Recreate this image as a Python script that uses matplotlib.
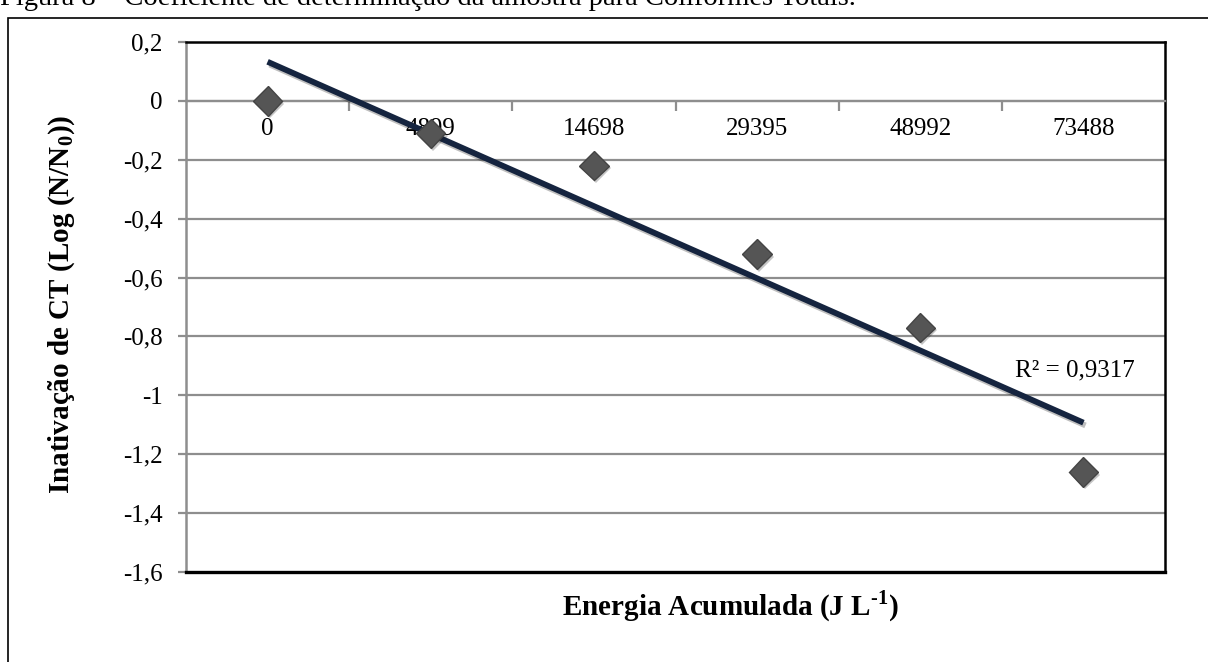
"""Inativacao de coliformes totais vs energia acumulada, com linha de tendencia."""

import matplotlib
matplotlib.use("Agg")
import matplotlib.pyplot as plt
import matplotlib.patheffects as pe
from matplotlib.patches import Rectangle
import numpy as np

# ------------------------------------------------------------------
# Data
# ------------------------------------------------------------------
energy_labels = ["0", "4899", "14698", "29395", "48992", "73488"]
log_inactivation = [0.0, -0.11, -0.22, -0.52, -0.77, -1.26]
r2_value = 0.9317

y_ticks = [0.2, 0.0, -0.2, -0.4, -0.6, -0.8, -1.0, -1.2, -1.4, -1.6]
y_tick_labels = ["0,2", "0", "-0,2", "-0,4", "-0,6", "-0,8", "-1", "-1,2", "-1,4", "-1,6"]

caption = "Figura 8 – Coeficiente de determinação da amostra para Coliformes Totais."
x_title = "Energia Acumulada (J L$^{\\mathbf{\u2010}\\mathbf{1}}$)"
y_title = "Inativação de CT (Log (N/N$_{\\mathbf{0}}$))"

plt.rcParams["font.family"] = ["Liberation Serif", "DejaVu Serif"]
plt.rcParams["mathtext.fontset"] = "custom"
plt.rcParams["mathtext.rm"] = "Liberation Serif"
plt.rcParams["mathtext.bf"] = "Liberation Serif:bold"

W, H = 1208, 662
fig = plt.figure(figsize=(W / 100, H / 100), dpi=100)
fig.patch.set_facecolor("white")

# outer frame (runs off right and bottom edges) and the caption cut at the top
fig.add_artist(Rectangle((8 / W, -0.1), 1.2, 1 - 18 / H + 0.1, transform=fig.transFigure,
                         fill=False, edgecolor="black", linewidth=1.2))
fig.text(0.0, 1 - 5 / H, caption, fontsize=20.5, ha="left", va="baseline")

ax = fig.add_axes([186 / W, (H - 572) / H, 979 / W, 530 / H])

pos = np.arange(1, len(energy_labels) + 1)
y = np.asarray(log_inactivation)

ax.set_xlim(0.5, len(pos) + 0.5)
ax.set_ylim(-1.6, 0.2)

# gridlines
grid_color = "#8e8e8e"
for t in y_ticks[1:-1]:
    ax.axhline(t, color=grid_color, linewidth=1.6, zorder=1)

# spines
for side in ("top", "right"):
    ax.spines[side].set_color("black")
    ax.spines[side].set_linewidth(1.8)
ax.spines["left"].set_color(grid_color)
ax.spines["left"].set_linewidth(1.8)
ax.spines["bottom"].set_position(("data", 0))
ax.spines["bottom"].set_color(grid_color)
ax.spines["bottom"].set_linewidth(1.6)
ax.axhline(-1.6, color="black", linewidth=2.4, zorder=3, clip_on=False)

# y axis
ax.set_yticks(y_ticks)
ax.set_yticklabels(y_tick_labels, fontsize=18)
ax.tick_params(axis="y", length=6, width=1.6, color=grid_color, pad=11)

# category axis crossing at zero
ax.set_xticks(pos)
ax.set_xticklabels(energy_labels, fontsize=18)
ax.set_xticks(pos[:-1] + 0.5, minor=True)
ax.tick_params(axis="x", which="major", length=0, pad=12)
ax.tick_params(axis="x", which="minor", length=7, width=1.6, color=grid_color, direction="out")

# trend line
slope, intercept = np.polyfit(pos, y, 1)
fit = slope * pos + intercept
ax.plot(pos, fit, color="#15243f", linewidth=4.2, solid_capstyle="butt", zorder=4,
        path_effects=[pe.SimpleLineShadow(offset=(1.5, -2), alpha=0.25), pe.Normal()])

# markers
ax.plot(pos, y, linestyle="none", marker="D", markersize=15, color="#555555",
        markeredgecolor="#444444", zorder=5,
        path_effects=[pe.SimplePatchShadow(offset=(1.5, -2), alpha=0.25), pe.Normal()])

ax.text(pos[-1] - 0.05, -0.915, "R² = " + f"{r2_value:.4f}".replace(".", ","),
        fontsize=18, ha="center", va="center", zorder=6)

fig.text(730 / W, 1 - 606 / H, x_title, fontsize=21, fontweight="bold", ha="center", va="center")
fig.text(62 / W, 1 - 304 / H, y_title, fontsize=21, fontweight="bold", ha="center", va="center",
         rotation=90)

fig.savefig("out.png", dpi=100, facecolor="white")
